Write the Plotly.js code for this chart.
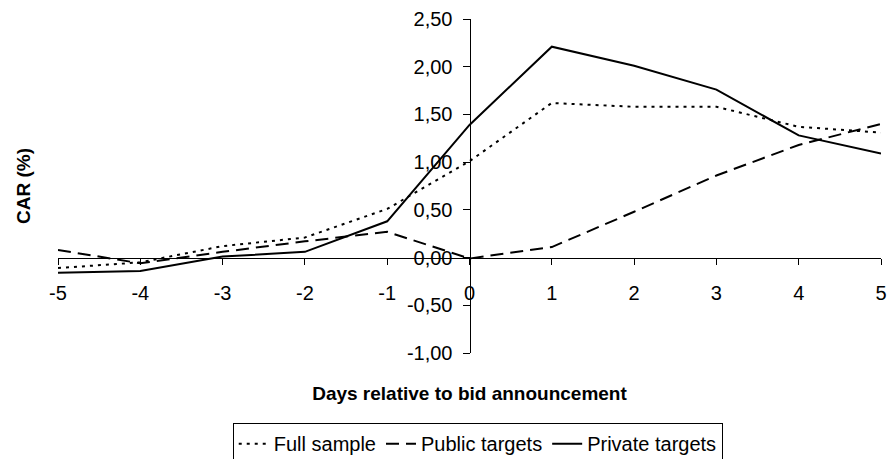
<!DOCTYPE html>
<html>
<head>
<meta charset="utf-8">
<script src="https://cdn.plot.ly/plotly-3.0.1.min.js"></script>
<style>html,body{margin:0;padding:0;background:#fff}#chart{width:889px;height:459px}</style>
</head>
<body>
<div id="chart"></div>
<script>
const days = [-5, -4, -3, -2, -1, 0, 1, 2, 3, 4, 5];
const fullSample = [-0.11, -0.05, 0.12, 0.21, 0.51, 1.01, 1.62, 1.58, 1.58, 1.37, 1.31];
const publicTargets = [0.08, -0.06, 0.06, 0.17, 0.27, -0.01, 0.11, 0.48, 0.86, 1.18, 1.40];
const privateTargets = [-0.16, -0.14, 0.01, 0.06, 0.38, 1.39, 2.21, 2.01, 1.76, 1.28, 1.09];
const xTickVals = [-5, -4, -3, -2, -1, 0, 1, 2, 3, 4, 5];
const xTickText = ['-5', '-4', '-3', '-2', '-1', '0', '1', '2', '3', '4', '5'];
const yTickVals = [-1, -0.5, 0, 0.5, 1, 1.5, 2, 2.5];
const yTickText = ['-1,00', '-0,50', '0,00', '0,50', '1,00', '1,50', '2,00', '2,50'];

const font = 'Liberation Sans, Arial, sans-serif';
const traces = [
  {x: days, y: fullSample, name: 'Full sample', mode: 'lines', line: {color: '#000', width: 2, dash: '3px,5px'}},
  {x: days, y: publicTargets, name: 'Public targets', mode: 'lines', line: {color: '#000', width: 2, dash: '13px,7px'}},
  {x: days, y: privateTargets, name: 'Private targets', mode: 'lines', line: {color: '#000', width: 2}}
];
const layout = {
  width: 889, height: 459,
  paper_bgcolor: '#fff', plot_bgcolor: '#fff',
  margin: {l: 58, r: 8, t: 19, b: 106, autoexpand: false},
  font: {family: font, size: 20, color: '#000'},
  showlegend: true,
  legend: {orientation: 'h', x: 0.51, xanchor: 'center', y: -0.21, yanchor: 'top',
           bordercolor: '#000', borderwidth: 1, font: {size: 20}, itemwidth: 30, tracegroupgap: 0},
  xaxis: {range: [-5, 5], tickvals: xTickVals, ticktext: xTickText, showgrid: false, zeroline: false,
          showline: true, linecolor: '#000', linewidth: 1, ticks: 'outside', ticklen: 6, tickcolor: '#000',
          anchor: 'free', position: 1 / 3.5, automargin: false, ticklabelstandoff: 11,
          title: {text: '<b>Days relative to bid announcement</b>', standoff: 84, font: {size: 19}}},
  yaxis: {range: [-1, 2.5], tickvals: yTickVals, ticktext: yTickText, showgrid: false, zeroline: false,
          showline: true, linecolor: '#000', linewidth: 1, ticks: 'outside', ticklen: 7, tickcolor: '#000',
          anchor: 'free', position: 0.5, ticklabelstandoff: 6, automargin: false,
          title: {text: '<b>CAR (%)</b>', standoff: 370, font: {size: 19}}}
};
Plotly.newPlot('chart', traces, layout, {displayModeBar: false, staticPlot: true});
</script>
</body>
</html>
